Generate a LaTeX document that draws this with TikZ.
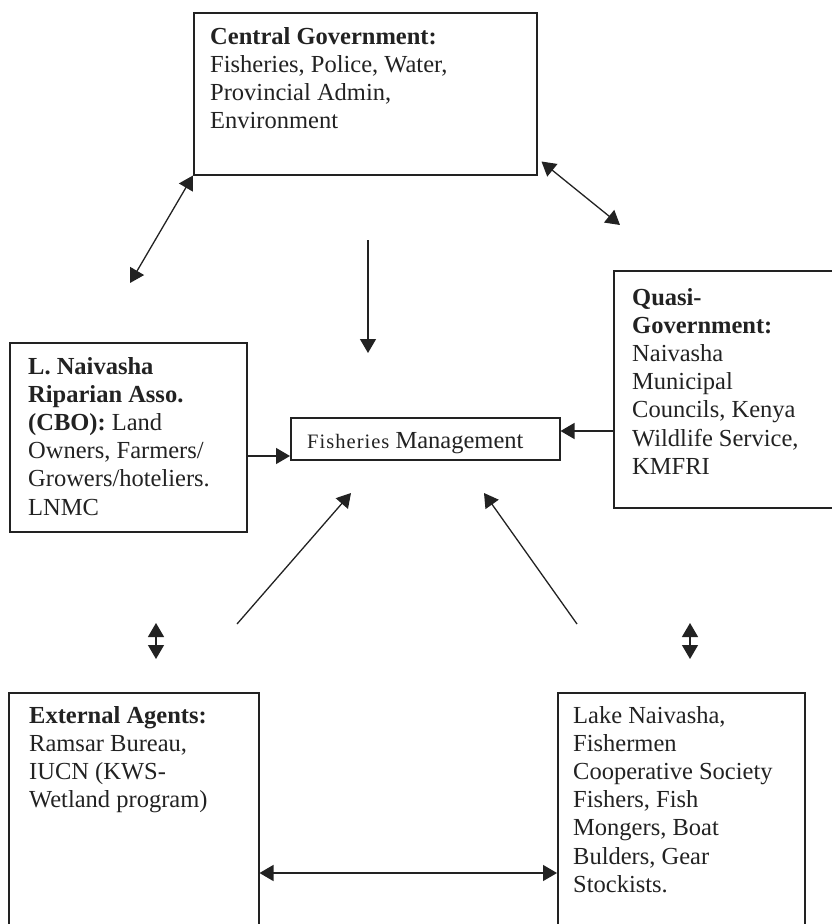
\documentclass[tikz,border=0pt]{standalone}
\usepackage{fontspec}
\setmainfont{Liberation Serif}
\usetikzlibrary{arrows.meta}
\definecolor{ink}{HTML}{222222}
\begin{document}
\begin{tikzpicture}[x=1pt,y=-1pt,
  box/.style={draw=ink, line width=1.5pt, inner sep=0pt, anchor=north west},
  txt/.style={anchor=base west, inner sep=0pt, text=ink, font=\fontsize{24.5}{28.2}\selectfont},
  tip/.tip={Triangle[length=14pt,width=16pt]},
  arr/.style={draw=ink, line width=1.3pt, -tip},
  dbl/.style={draw=ink, line width=1.3pt, tip-tip},
]
\useasboundingbox (0,0) rectangle (832,924);
\begin{scope}
\clip (0,0) rectangle (832,924);
% boxes
\node[box, minimum width=343pt, minimum height=162pt] (cg) at (193,12) {};
\node[box, minimum width=237pt, minimum height=189pt] (lb) at (9,342) {};
\node[box, minimum width=269pt, minimum height=42pt] (fm) at (290,417) {};
\node[box, minimum width=240pt, minimum height=237pt] (qb) at (613,270) {};
\node[box, minimum width=250pt, minimum height=260pt] (ext) at (8,692) {};
\node[box, minimum width=247pt, minimum height=260pt] (lake) at (557,692) {};
% texts
\node[txt] (cgt) at (210,44) {\begin{tabular}[t]{@{}l@{}}\textbf{Central Government:}\\ Fisheries, Police, Water,\\ Provincial Admin,\\ Environment\end{tabular}};
\node[txt] (lbt) at (28,374) {\begin{tabular}[t]{@{}l@{}}\textbf{L. Naivasha}\\ \textbf{Riparian Asso.}\\ \textbf{(CBO):} Land\\ Owners, Farmers/\\ Growers/hoteliers.\\ LNMC\end{tabular}};
\node[txt] (fmt) at (307,448) {{\fontsize{20.5}{24}\selectfont\addfontfeature{LetterSpace=5}Fisheries} Management};
\node[txt] (qbt) at (632,305) {\begin{tabular}[t]{@{}l@{}}\textbf{Quasi-}\\ \textbf{Government:}\\ Naivasha\\ Municipal\\ Councils, Kenya\\ Wildlife Service,\\ KMFRI\end{tabular}};
\node[txt] (extt) at (29,723) {\begin{tabular}[t]{@{}l@{}}\textbf{External Agents:}\\ Ramsar Bureau,\\ IUCN (KWS-\\ Wetland program)\end{tabular}};
\node[txt] (laket) at (573,723) {\begin{tabular}[t]{@{}l@{}}Lake Naivasha,\\ Fishermen\\ Cooperative Society\\ Fishers, Fish\\ Mongers, Boat\\ Bulders, Gear\\ Stockists.\end{tabular}};
% free ends
\coordinate (la) at (130,283);
\coordinate (ra) at (620,225);
\coordinate (vs) at (368,240);
\coordinate (ve) at (368,353);
\coordinate (d1s) at (237,624);
\coordinate (d1e) at (351,493);
\coordinate (d2s) at (577,624);
\coordinate (d2e) at (484,493);
\coordinate (s1a) at (156,623);
\coordinate (s1b) at (156,659);
\coordinate (s2a) at (690,623);
\coordinate (s2b) at (690,659);
% connectors
\draw[dbl] (cg.south west) -- (la);
\draw[dbl] ([shift={(4pt,14pt)}]cg.south east) -- (ra);
\draw[arr] (vs) -- (ve);
\draw[arr] ([yshift=-114pt]lb.north east) -- ([yshift=-39pt]fm.north west);
\draw[arr] ([yshift=-161pt]qb.north west) -- ([yshift=-14pt]fm.north east);
\draw[arr] (d1s) -- (d1e);
\draw[arr] (d2s) -- (d2e);
\draw[dbl] (s1a) -- (s1b);
\draw[dbl] (s2a) -- (s2b);
\draw[dbl] ([yshift=-181pt]ext.north east) -- ([yshift=-181pt]lake.north west);
\end{scope}
\end{tikzpicture}
\end{document}
